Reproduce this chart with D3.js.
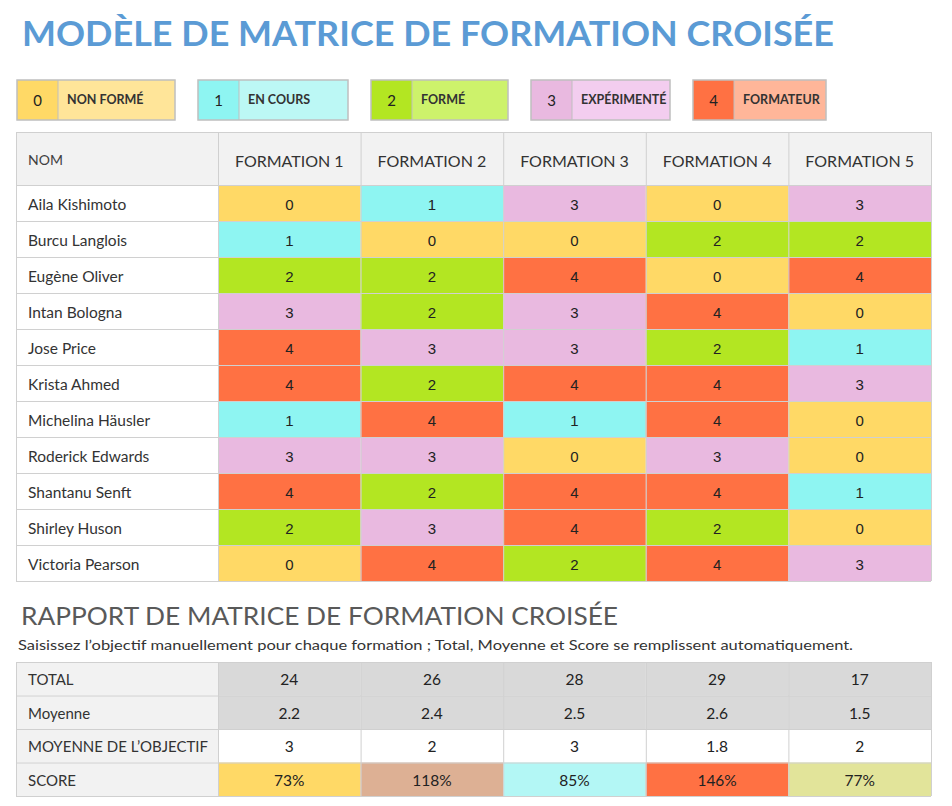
<!DOCTYPE html>
<html><head><meta charset="utf-8">
<script src="https://cdn.jsdelivr.net/npm/d3@7"></script>
<style>body{margin:0;background:#fff;} svg{display:block;}</style>
</head><body>
<svg id="c" width="952" height="806"></svg>
<script>
const title = "MODÈLE DE MATRICE DE FORMATION CROISÉE";
const reportTitle = "RAPPORT DE MATRICE DE FORMATION CROISÉE";
const reportNote = "Saisissez l’objectif manuellement pour chaque formation ; Total, Moyenne et Score se remplissent automatiquement.";
const levels = [0, 1, 2, 3, 4];
const levelLabels = ["NON FORMÉ", "EN COURS", "FORMÉ", "EXPÉRIMENTÉ", "FORMATEUR"];
const levelColors = ["#FFD966", "#8EF5F2", "#B3E622", "#E9B9E0", "#FF7143"];
const levelLight = ["#FFE599", "#BCF8F5", "#CDF26B", "#F3CDEF", "#FFB699"];
const formations = ["FORMATION 1", "FORMATION 2", "FORMATION 3", "FORMATION 4", "FORMATION 5"];
const names = ["Aila Kishimoto", "Burcu Langlois", "Eugène Oliver", "Intan Bologna", "Jose Price", "Krista Ahmed", "Michelina Häusler", "Roderick Edwards", "Shantanu Senft", "Shirley Huson", "Victoria Pearson"];
const scores = [
  [0, 1, 3, 0, 3],
  [1, 0, 0, 2, 2],
  [2, 2, 4, 0, 4],
  [3, 2, 3, 4, 0],
  [4, 3, 3, 2, 1],
  [4, 2, 4, 4, 3],
  [1, 4, 1, 4, 0],
  [3, 3, 0, 3, 0],
  [4, 2, 4, 4, 1],
  [2, 3, 4, 2, 0],
  [0, 4, 2, 4, 3]
];
const reportLabels = ["TOTAL", "Moyenne", "MOYENNE DE L’OBJECTIF", "SCORE"];
const totals = ["24", "26", "28", "29", "17"];
const averages = ["2.2", "2.4", "2.5", "2.6", "1.5"];
const targets = ["3", "2", "3", "1.8", "2"];
const scorePct = ["73%", "118%", "85%", "146%", "77%"];
const scoreColors = ["#FFD966", "#DDB094", "#B3F7F5", "#FF7143", "#E2E49A"];
const reportBg = ["#D9D9D9", "#D9D9D9", "#FFFFFF", null];

const svg = d3.select("#c");
const FONT = "Lato, 'Open Sans', sans-serif";
const NUMFONT = "'Liberation Sans', Arial, sans-serif";
const GRID = "#D0D0D0";

// Title
svg.append("text").attr("x", 22).attr("y", 46)
  .attr("font-family", FONT).attr("font-weight", 700).attr("font-size", 35)
  .attr("fill", "#5B9BD5").attr("textLength", 812).attr("lengthAdjust", "spacingAndGlyphs")
  .text(title);

// Legend
const legendX = [17, 198, 371, 531, 693];
const legendW = [158, 150, 137, 139, 133];
const numW = 41;
const lg = svg.append("g");
levels.forEach((l, i) => {
  const g = lg.append("g").attr("transform", `translate(${legendX[i]},80)`);
  g.append("rect").attr("width", numW).attr("height", 40).attr("fill", levelColors[i]);
  g.append("rect").attr("x", numW).attr("width", legendW[i] - numW).attr("height", 40).attr("fill", levelLight[i]);
  g.append("line").attr("x1", numW).attr("x2", numW).attr("y1", 0).attr("y2", 40).attr("stroke", "#BFBFBF");
  g.append("rect").attr("width", legendW[i]).attr("height", 40).attr("fill", "none").attr("stroke", "#BFBFBF").attr("stroke-width", 1.5);
  g.append("text").attr("x", numW / 2).attr("y", 21).attr("dy", "0.35em").attr("text-anchor", "middle")
    .attr("font-family", FONT).attr("font-size", 15).attr("fill", "#222").text(l);
  g.append("text").attr("x", numW + 9).attr("y", 20).attr("dy", "0.35em")
    .attr("font-family", FONT).attr("font-weight", 700).attr("font-size", 12.5).attr("fill", "#333").text(levelLabels[i]);
});

// Main table
const tableLeft = 16, nameRight = 218, tableRight = 931;
const x = d3.scaleBand().domain(formations).range([nameRight, tableRight]);
const headerTop = 132, headerBottom = 185;
const y = d3.scaleBand().domain(names).range([headerBottom, 581]);
const color = d3.scaleOrdinal().domain(levels).range(levelColors);

const t = svg.append("g");
t.append("rect").attr("x", tableLeft).attr("y", headerTop).attr("width", tableRight - tableLeft).attr("height", headerBottom - headerTop).attr("fill", "#F2F2F2");
t.append("text").attr("x", 28).attr("y", 160).attr("dy", "0.35em")
  .attr("font-family", FONT).attr("font-size", 14).attr("fill", "#404040").text("NOM");
t.selectAll("text.h").data(formations).join("text").attr("class", "h")
  .attr("x", d => x(d) + x.bandwidth() / 2).attr("y", 161).attr("dy", "0.35em").attr("text-anchor", "middle")
  .attr("font-family", FONT).attr("font-size", 16).attr("fill", "#333").text(d => d);

const rows = t.selectAll("g.row").data(names).join("g").attr("class", "row");
rows.append("rect").attr("x", tableLeft).attr("y", d => y(d)).attr("width", nameRight - tableLeft).attr("height", y.bandwidth()).attr("fill", "#fff");
rows.append("text").attr("x", 28).attr("y", d => y(d) + y.bandwidth() / 2 + 1.5).attr("dy", "0.35em")
  .attr("font-family", FONT).attr("font-size", 15.5).attr("fill", "#333").text(d => d);
names.forEach((n, r) => {
  formations.forEach((f, c) => {
    const v = scores[r][c];
    t.append("rect").attr("x", x(f)).attr("y", y(n)).attr("width", x.bandwidth()).attr("height", y.bandwidth()).attr("fill", color(v));
    t.append("text").attr("x", x(f) + x.bandwidth() / 2).attr("y", y(n) + y.bandwidth() / 2 + 1.5).attr("dy", "0.35em")
      .attr("text-anchor", "middle").attr("font-family", NUMFONT).attr("font-size", 15).attr("fill", "#222").text(v);
  });
});
const hLines = [headerTop, headerBottom].concat(names.map(n => y(n) + y.bandwidth()));
t.selectAll("line.hl").data(hLines).join("line").attr("class", "hl")
  .attr("x1", tableLeft).attr("x2", tableRight).attr("y1", d => d + 0.5).attr("y2", d => d + 0.5).attr("stroke", GRID);
const vLines = [tableLeft, nameRight].concat(formations.map(f => x(f) + x.bandwidth()));
t.selectAll("line.vl").data(vLines).join("line").attr("class", "vl")
  .attr("x1", d => d + 0.5).attr("x2", d => d + 0.5).attr("y1", headerTop).attr("y2", 581).attr("stroke", GRID);

// Report
svg.append("text").attr("x", 21).attr("y", 625)
  .attr("font-family", FONT).attr("font-size", 24.5).attr("fill", "#595959")
  .attr("textLength", 597).attr("lengthAdjust", "spacingAndGlyphs").text(reportTitle);
svg.append("text").attr("x", 18).attr("y", 650)
  .attr("font-family", FONT).attr("font-size", 14).attr("fill", "#333")
  .attr("textLength", 835).attr("lengthAdjust", "spacingAndGlyphs").text(reportNote);

const ry = d3.scaleBand().domain(reportLabels).range([662, 796]);
const reportVals = [totals, averages, targets, scorePct];
const rg = svg.append("g");
reportLabels.forEach((lab, r) => {
  rg.append("rect").attr("x", tableLeft).attr("y", ry(lab)).attr("width", nameRight - tableLeft).attr("height", ry.bandwidth()).attr("fill", "#F2F2F2");
  rg.append("text").attr("x", 28).attr("y", ry(lab) + ry.bandwidth() / 2 + 1).attr("dy", "0.35em")
    .attr("font-family", FONT).attr("font-size", 15).attr("fill", "#333").text(lab);
  formations.forEach((f, c) => {
    const bg = reportBg[r] || scoreColors[c];
    rg.append("rect").attr("x", x(f)).attr("y", ry(lab)).attr("width", x.bandwidth()).attr("height", ry.bandwidth()).attr("fill", bg);
    rg.append("text").attr("x", x(f) + x.bandwidth() / 2).attr("y", ry(lab) + ry.bandwidth() / 2 + 1).attr("dy", "0.35em")
      .attr("text-anchor", "middle").attr("font-family", FONT).attr("font-size", 15.5).attr("fill", "#222").text(reportVals[r][c]);
  });
});
const rh = [662].concat(reportLabels.map(l => ry(l) + ry.bandwidth()));
rg.selectAll("line.hl").data(rh).join("line").attr("class", "hl")
  .attr("x1", tableLeft).attr("x2", tableRight).attr("y1", d => d + 0.5).attr("y2", d => d + 0.5).attr("stroke", GRID);
rg.selectAll("line.vl").data(vLines).join("line").attr("class", "vl")
  .attr("x1", d => d + 0.5).attr("x2", d => d + 0.5).attr("y1", 662).attr("y2", 796).attr("stroke", GRID);
</script>
</body></html>
